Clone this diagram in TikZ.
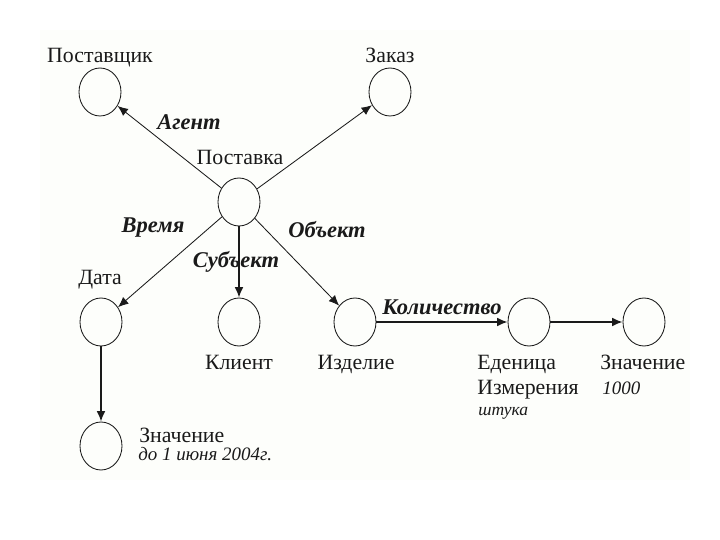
\documentclass[tikz,border=0pt]{standalone}
\usepackage{fontspec}
\setmainfont{Liberation Serif}
\usepackage{tikz}
\usetikzlibrary{arrows.meta,shapes.geometric}
\definecolor{SemInk}{HTML}{1A1A1A}
\definecolor{SemPanel}{HTML}{FDFEFB}

\begin{document}
\begin{tikzpicture}[
      >={Latex[length=2.6mm,width=2.2mm]},
      concept/.style={draw=SemInk,ellipse,line width=0.6pt,minimum width=1.05cm,
        minimum height=1.2cm,inner sep=0pt},
      link/.style={->,line width=0.6pt,draw=SemInk},
      boldlink/.style={->,line width=1.2pt,draw=SemInk},
      caption/.style={font=\fontsize{15.5}{18}\selectfont,text=SemInk,inner sep=0pt,anchor=base},
      role/.style={font=\fontsize{16}{18}\selectfont\bfseries\itshape,text=SemInk,inner sep=0pt,
        anchor=base},
      datum/.style={font=\fontsize{13.5}{16}\selectfont\itshape,text=SemInk,inner sep=0pt,
        anchor=base west}
    ]
    \useasboundingbox (0,0) rectangle (18,13.5);
    \fill[SemPanel] (1,1.5) rectangle (17.25,12.75);

    \node[concept] (post) at (5.975,8.45) {};
    \node[concept] (supp) at (2.5,11.2) {};
    \node[concept] (order) at (9.75,11.2) {};
    \node[concept] (date) at (2.525,5.45) {};
    \node[concept] (client) at (5.975,5.45) {};
    \node[concept] (item) at (8.875,5.45) {};
    \node[concept] (unit) at (13.225,5.45) {};
    \node[concept] (amount) at (16.1,5.45) {};
    \node[concept] (dateval) at (2.525,2.35) {};

    \draw[link] (post) -- (supp);
    \draw[link] (post) -- (order);
    \draw[link] (post) -- (date);
    \draw[boldlink] (post) -- (client);
    \draw[link] (post) -- (item);
    \draw[boldlink] (item) -- (unit);
    \draw[boldlink] (unit) -- (amount);
    \draw[boldlink] (date) -- (dateval);

    \node[caption] (supplbl) at (2.5,11.925) {Поставщик};
    \node[caption] (orderlbl) at (9.75,11.925) {Заказ};
    \node[caption] (postlbl) at (6.0,9.375) {Поставка};
    \node[caption] (datelbl) at (2.5,6.375) {Дата};
    \node[caption] (clientlbl) at (5.975,4.275) {Клиент};
    \node[caption] (itemlbl) at (8.9,4.275) {Изделие};
    \node[caption,anchor=base west] (unitlbl) at (11.925,4.275) {Еденица};
    \node[caption,anchor=base west] (unitlbl2) at (11.925,3.625) {Измерения};
    \node[datum,font=\fontsize{12.5}{15}\selectfont\itshape] (unittxt) at (11.95,3.1) {штука};
    \node[caption,anchor=base west] (amountlbl) at (15.0,4.275) {Значение};
    \node[datum] (amounttxt) at (15.05,3.625) {1000};
    \node[caption,anchor=base west] (datevallbl) at (3.475,2.425) {Значение};
    \node[datum] (datevaltxt) at (3.45,1.975) {до 1 июня 2004г.};

    \node[role] (agent) at (4.725,10.25) {Агент};
    \node[role] (time) at (3.825,7.675) {Время};
    \node[role] (subject) at (5.9,6.8) {Субъект};
    \node[role] (object) at (8.175,7.55) {Объект};
    \node[role] (quantity) at (11.05,5.625) {Количество};
  \end{tikzpicture}
\end{document}
